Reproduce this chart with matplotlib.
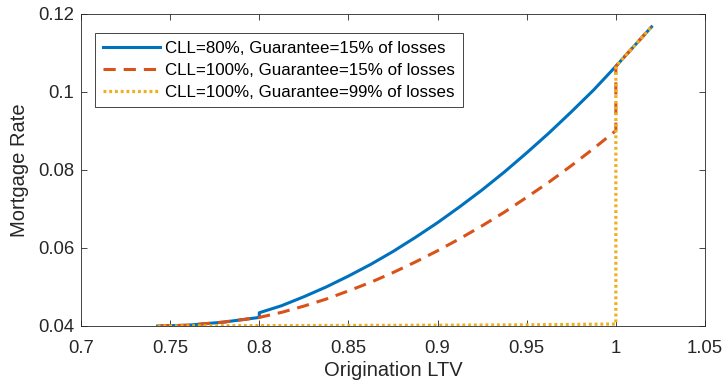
import matplotlib
matplotlib.use("Agg")
import matplotlib.pyplot as plt

plt.rcParams['font.family'] = ['Liberation Sans', 'DejaVu Sans']

# Data
x_blue = [0.743, 0.76, 0.78, 0.80, 0.80, 0.8125, 0.825, 0.8375, 0.85, 0.8625, 0.875, 0.8875,
          0.90, 0.9125, 0.925, 0.9375, 0.95, 0.9625, 0.975, 0.9875, 1.0, 1.02]
y_blue = [0.0400, 0.0402, 0.0410, 0.0422, 0.0434, 0.0452, 0.0475, 0.0500, 0.0528, 0.0558,
          0.0591, 0.0627, 0.0665, 0.0706, 0.0749, 0.0795, 0.0844, 0.0895, 0.0949, 0.1005,
          0.1066, 0.1167]

x_red = [0.743, 0.76, 0.78, 0.80, 0.8125, 0.825, 0.8375, 0.85, 0.8625, 0.875, 0.8875,
         0.90, 0.9125, 0.925, 0.9375, 0.95, 0.9625, 0.975, 0.9875, 1.0, 1.0, 1.02]
y_red = [0.0400, 0.0402, 0.0410, 0.0422, 0.0435, 0.0451, 0.0469, 0.0490, 0.0512, 0.0537,
         0.0564, 0.0593, 0.0624, 0.0657, 0.0692, 0.0730, 0.0769, 0.0811, 0.0855, 0.0901,
         0.1066, 0.1167]

x_yel = [0.743, 0.80, 0.90, 0.95, 1.0, 1.0, 1.02]
y_yel = [0.0400, 0.0401, 0.0402, 0.0403, 0.0405, 0.1066, 0.1167]

labels = ["CLL=80%, Guarantee=15% of losses",
          "CLL=100%, Guarantee=15% of losses",
          "CLL=100%, Guarantee=99% of losses"]
xticks = [0.7, 0.75, 0.8, 0.85, 0.9, 0.95, 1.0, 1.05]
xticklabels = ["0.7", "0.75", "0.8", "0.85", "0.9", "0.95", "1", "1.05"]
yticks = [0.04, 0.06, 0.08, 0.1, 0.12]
yticklabels = ["0.04", "0.06", "0.08", "0.1", "0.12"]

axc = '#262626'
fig = plt.figure(figsize=(7.25, 3.84), dpi=100)
ax = fig.add_axes([81/725, 1-326/384, (705-81)/725, (326-14)/384])

ax.plot(x_blue, y_blue, color='#0072BD', lw=2.2, ls='-', label=labels[0])
ax.plot(x_red, y_red, color='#D95319', lw=2.2, ls=(0, (4, 2.6)), label=labels[1])
ax.plot(x_yel, y_yel, color='#EDB120', lw=2.3, ls=(0, (0.9, 0.9)), label=labels[2])

ax.set_xlim(0.7, 1.05)
ax.set_ylim(0.04, 0.12)
ax.set_xticks(xticks)
ax.set_xticklabels(xticklabels)
ax.set_yticks(yticks)
ax.set_yticklabels(yticklabels)
ax.tick_params(direction='in', length=4, width=0.6, colors=axc, labelsize=13.3,
               top=True, right=True, labeltop=False, labelright=False)
ax.tick_params(axis='x', pad=10)
ax.tick_params(axis='y', pad=5)
for s in ax.spines.values():
    s.set_color(axc)
    s.set_linewidth(0.6)

ax.set_xlabel("Origination LTV", fontsize=14.5, color=axc, labelpad=3)
ax.set_ylabel("Mortgage Rate", fontsize=14.5, color=axc, labelpad=6)

leg = ax.legend(loc='upper left', bbox_to_anchor=(14/624, 1-19/312), fontsize=12.2,
                handlelength=3.4, handletextpad=0.3, borderpad=0.45, labelspacing=0.42,
                fancybox=False, framealpha=1, edgecolor=axc, borderaxespad=0)
leg.get_frame().set_linewidth(0.6)

fig.savefig("out.png", dpi=100)
